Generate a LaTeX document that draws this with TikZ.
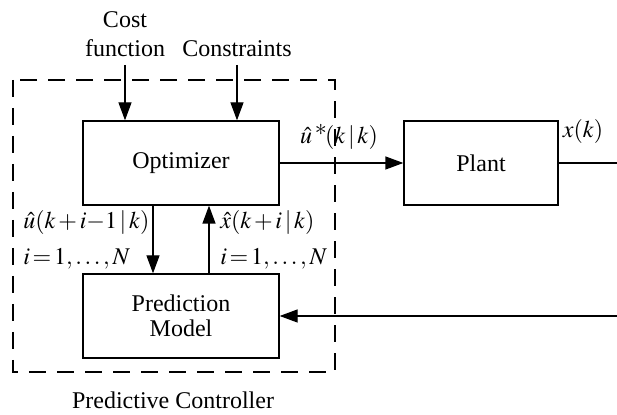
\documentclass[tikz,border=0pt]{standalone}
\usepackage{mathptmx}
\usepackage[no-math]{fontspec}
\setmainfont{Liberation Serif}
\usetikzlibrary{arrows.meta}
\tikzset{
  blockbox/.style={draw,line width=0.65pt,minimum width=#1,minimum height=42pt,inner sep=0pt,align=center},
  sig/.style={line width=0.65pt,-{Triangle[length=9pt,width=6.5pt]}},
  lbl/.style={inner sep=0pt,font=\fontsize{12}{13.5}\selectfont}
}
\newcommand{\tb}{\mkern2mu}
\begin{document}
\begin{tikzpicture}[x=0.5pt,y=-0.5pt,font=\fontsize{12}{13.5}\selectfont]
\useasboundingbox (0,0) rectangle (617,415);

% Controller frame
\coordinate (ctrlnw) at (13,80);
\coordinate (ctrlse) at (335,372);
\draw[line width=1pt,dash pattern=on 8.5pt off 5.5pt] (ctrlnw) rectangle (ctrlse);
\node[lbl] (ctrlname) at (173,400) {Predictive Controller};

% Blocks
\node[blockbox=98pt] (opt) at (181,163) {Optimizer};
\node[blockbox=98pt] (pm) at (181,316) {Prediction\\[-1pt]Model};
\node[blockbox=77pt] (plant) at (481,163) {Plant};

% Inputs
\node[lbl,align=center,anchor=south] (cost) at (125,57) {Cost\\[1pt]function};
\node[lbl,anchor=south] (cons) at (237,57) {Constraints};
\draw[sig] ([yshift=-4pt]cost.south) -- (cost.south |- opt.north);
\draw[sig] ([yshift=-4pt]cons.south) -- (cons.south |- opt.north);

% Optimizer to plant
\draw[sig] (opt.east) -- (plant.west);
\node[lbl] (ustar) at (339,137) {$\hat{u}\,^{\textstyle *}\!(k\,|\,k)$};
\coordinate (out) at (617,163);
\draw[line width=0.65pt] (plant.east) -- (out);
\node[lbl] (xk) at (583,132) {$x(k)$};

% Prediction loop
\draw[sig] ([xshift=-14pt]opt.south) -- ([xshift=-14pt]pm.north);
\draw[sig] ([xshift=14pt]pm.north) -- ([xshift=14pt]opt.south);
\node[lbl,anchor=west] (useq) at (23,223) {$\hat{u}(k\tb{+}\tb i{-}1\,|\,k)$};
\node[lbl,anchor=west] (uidx) at (23,259) {$i\tb{=}\tb 1,\ldots,N$};
\node[lbl,anchor=west] (xseq) at (220,223) {$\hat{x}(k\tb{+}\tb i\,|\,k)$};
\node[lbl,anchor=west] (xidx) at (220,259) {$i\tb{=}\tb 1,\ldots,N$};

% Feedback
\coordinate (fb) at (617,316);
\draw[sig] (fb) -- (pm.east);
\end{tikzpicture}
\end{document}
